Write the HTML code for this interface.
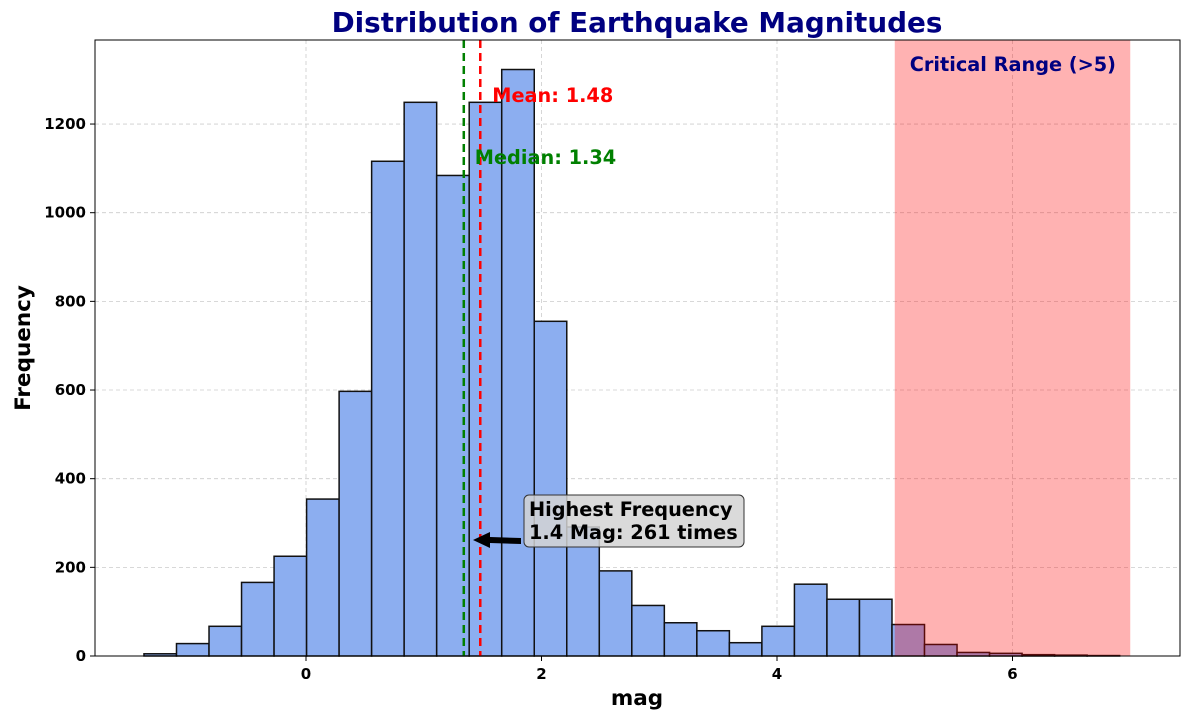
<!DOCTYPE html>
<html><head><meta charset="utf-8"><style>
body{margin:0;background:#fff;font-family:"Liberation Sans","DejaVu Sans",sans-serif}
svg text{font-family:"DejaVu Sans","Liberation Sans",sans-serif}
</style></head><body>
<svg id="c" width="1189" height="719"></svg>
<script>
const binStart=-1.376, binWidth=0.2762;
const counts=[5,28,67,166,225,354,597,1116,1249,1084,1249,1323,755,291,192,114,75,57,30,67,162,128,128,71,26,8,6,3,2,1];
const xTicks=[0,2,4,6];
const yTicks=[0,200,400,600,800,1000,1200];
const meanVal=1.48, medianVal=1.34;
const NS="http://www.w3.org/2000/svg";
const svg=document.getElementById('c');
const L=95,R=1180,T=40,B=656;
const X=v=>306+v*117.75;
const Y=v=>B-v*0.4433;
function el(t,a,txt){const e=document.createElementNS(NS,t);for(const k in a)e.setAttribute(k,a[k]);if(txt!==undefined)e.textContent=txt;svg.appendChild(e);return e;}
xTicks.forEach(t=>{const g=el('line',{x1:X(t),x2:X(t),y1:T,y2:B,stroke:'#ccc','stroke-dasharray':'4,3','stroke-width':0.8});
});
yTicks.forEach(t=>{const g=el('line',{x1:L,x2:R,y1:Y(t),y2:Y(t),stroke:'#ccc','stroke-dasharray':'4,3','stroke-width':0.8});
});
counts.forEach((c,i)=>{const x0=X(binStart+i*binWidth),x1=X(binStart+(i+1)*binWidth);
const r=el('rect',{x:x0,y:Y(c),width:x1-x0,height:B-Y(c),fill:'#8caef0',stroke:'#111','stroke-width':1.5});
});
const sp=el('rect',{x:X(5),y:T,width:X(7)-X(5),height:B-T,fill:'rgba(255,0,0,0.3)'});

const st=el('text',{x:1116,y:71,'text-anchor':'end','font-size':19.3,'font-weight':'bold',fill:'#000080'},'Critical Range (>5)');

const ml=el('line',{x1:X(meanVal),x2:X(meanVal),y1:T,y2:B,stroke:'red','stroke-width':2.5,'stroke-dasharray':'8,5'});

const dl=el('line',{x1:X(medianVal),x2:X(medianVal),y1:T,y2:B,stroke:'green','stroke-width':2.5,'stroke-dasharray':'8,5'});

const mt=el('text',{x:X(meanVal)+12,y:102,'font-size':19.3,'font-weight':'bold',fill:'red'},'Mean: '+meanVal.toFixed(2));

const dt=el('text',{x:X(medianVal)+11,y:164,'font-size':19.3,'font-weight':'bold',fill:'green'},'Median: '+medianVal.toFixed(2));

const box=el('rect',{x:524,y:495,width:220,height:52,rx:5,fill:'rgba(211,211,211,0.85)',stroke:'#333','stroke-width':1});

const a1=el('text',{x:529,y:516,'font-size':19.3,'font-weight':'bold',fill:'#000'},'Highest Frequency');

const a2=el('text',{x:529,y:539,'font-size':19.3,'font-weight':'bold',fill:'#000'},'1.4 Mag: 261 times');

const ar=el('path',{d:'M521,538 L490,537 L490,532 L473,540 L490,548 L490,543 L521,544 Z',fill:'#000'});

const fr=el('rect',{x:L,y:T,width:R-L,height:B-T,fill:'none',stroke:'#000','stroke-width':1});

xTicks.forEach(t=>{const k=el('line',{x1:X(t),x2:X(t),y1:B,y2:B+5,stroke:'#000'});
const l=el('text',{x:X(t),y:B+23,'text-anchor':'middle','font-size':15,'font-weight':'bold'},String(t));});
yTicks.forEach(t=>{const k=el('line',{x1:L-5,x2:L,y1:Y(t),y2:Y(t),stroke:'#000'});
const l=el('text',{x:L-9,y:Y(t)+5,'text-anchor':'end','font-size':15,'font-weight':'bold'},String(t));});
const ti=el('text',{x:637,y:32,'text-anchor':'middle','font-size':27.8,'font-weight':'bold',fill:'#000080'},'Distribution of Earthquake Magnitudes');

const xl=el('text',{x:637,y:705,'text-anchor':'middle','font-size':21.5,'font-weight':'bold'},'mag');

const yl=el('text',{x:30,y:348,'text-anchor':'middle','font-size':21.5,'font-weight':'bold',transform:'rotate(-90 30 348)'},'Frequency');

</script>
</body></html>
